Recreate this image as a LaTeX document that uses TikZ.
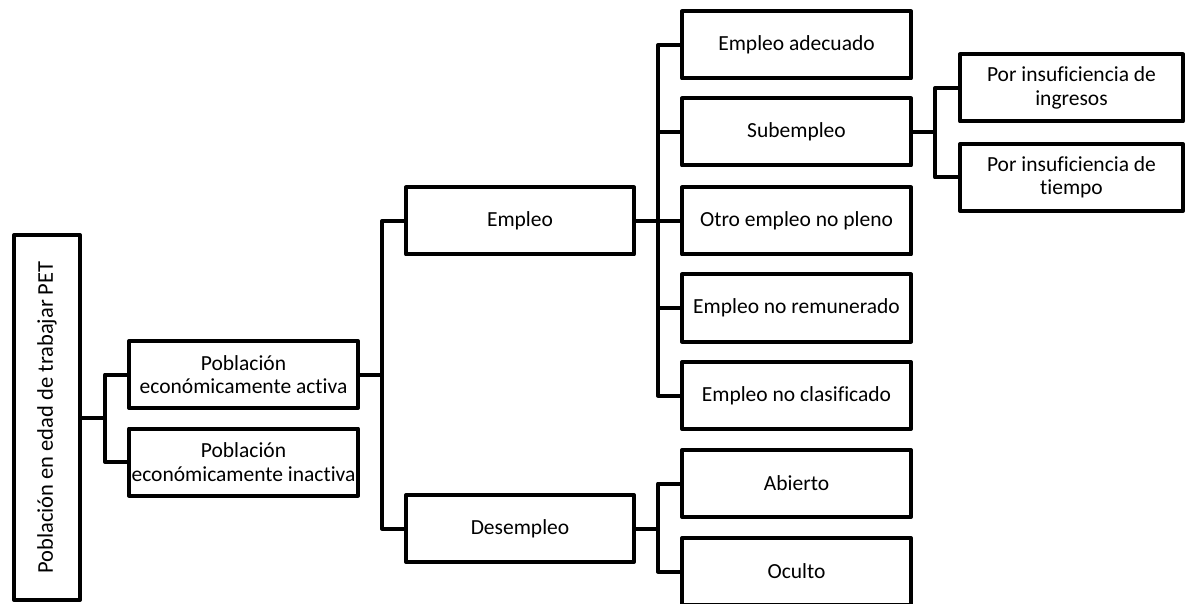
\documentclass[tikz,border=0pt]{standalone}
\usepackage{fontspec}
\setmainfont{Carlito}[Ligatures=CommonOff]
\begin{document}
\begin{tikzpicture}[x=1pt,y=-1pt,
  box/.style={draw=black, line width=4pt, line join=round, inner sep=0pt, align=center,
    font=\fontsize{21.5}{23.5}\selectfont, minimum width=229pt, minimum height=67pt},
  conn/.style={draw=black, line width=4pt, line join=round}]
\useasboundingbox (0,0) rectangle (1187,604);
% nodes
\node[box, minimum width=66pt, minimum height=365pt, font=\fontsize{22.5}{24}\selectfont] (pet) at (47,417.5)
  {\rotatebox{90}{Población en edad de trabajar PET}};
\node[box] (pea) at (243.5,374.5) {Población\\económicamente activa};
\node[box] (pei) at (243.5,462) {Población\\económicamente inactiva};
\node[box, minimum width=228pt] (emp) at (520,221) {Empleo};
\node[box, minimum width=228pt] (des) at (520,528.5) {Desempleo};
\node[box] (adec) at (796.5,45) {Empleo adecuado};
\node[box] (sub) at (796.5,132) {Subempleo};
\node[box] (otro) at (796.5,221) {Otro empleo no pleno};
\node[box] (rem) at (796.5,308) {Empleo no remunerado};
\node[box] (clas) at (796.5,395.5) {Empleo no clasificado};
\node[box] (abi) at (796.5,483.5) {Abierto};
\node[box] (ocu) at (796.5,571.5) {Oculto};
\node[box, minimum width=223pt] (ing) at (1071.5,88) {Por insuficiencia de\\ingresos};
\node[box, minimum width=223pt] (tie) at (1071.5,177.5) {Por insuficiencia de\\tiempo};
% bracket coordinates
\coordinate (b1) at (105,418);
\coordinate (b2) at (382,374.5);
\coordinate (b3) at (658,221);
\coordinate (b4) at (658,528.5);
\coordinate (b5) at (935,132);
% connectors
\draw[conn] (pet.east |- b1) -- (b1);
\draw[conn] (pea.west) -| (b1) |- (pei.west);
\draw[conn] (pea.east) -- (b2);
\draw[conn] (emp.west) -| (b2) |- (des.west);
\draw[conn] (emp.east) -- (b3);
\draw[conn] (adec.west) -| (b3) |- (clas.west);
\draw[conn] (sub.west) -- (sub.west -| b3);
\draw[conn] (otro.west) -- (otro.west -| b3);
\draw[conn] (rem.west) -- (rem.west -| b3);
\draw[conn] (des.east) -- (b4);
\draw[conn] (abi.west) -| (b4) |- (ocu.west);
\draw[conn] (sub.east) -- (b5);
\draw[conn] (ing.west) -| (b5) |- (tie.west);
\end{tikzpicture}
\end{document}
